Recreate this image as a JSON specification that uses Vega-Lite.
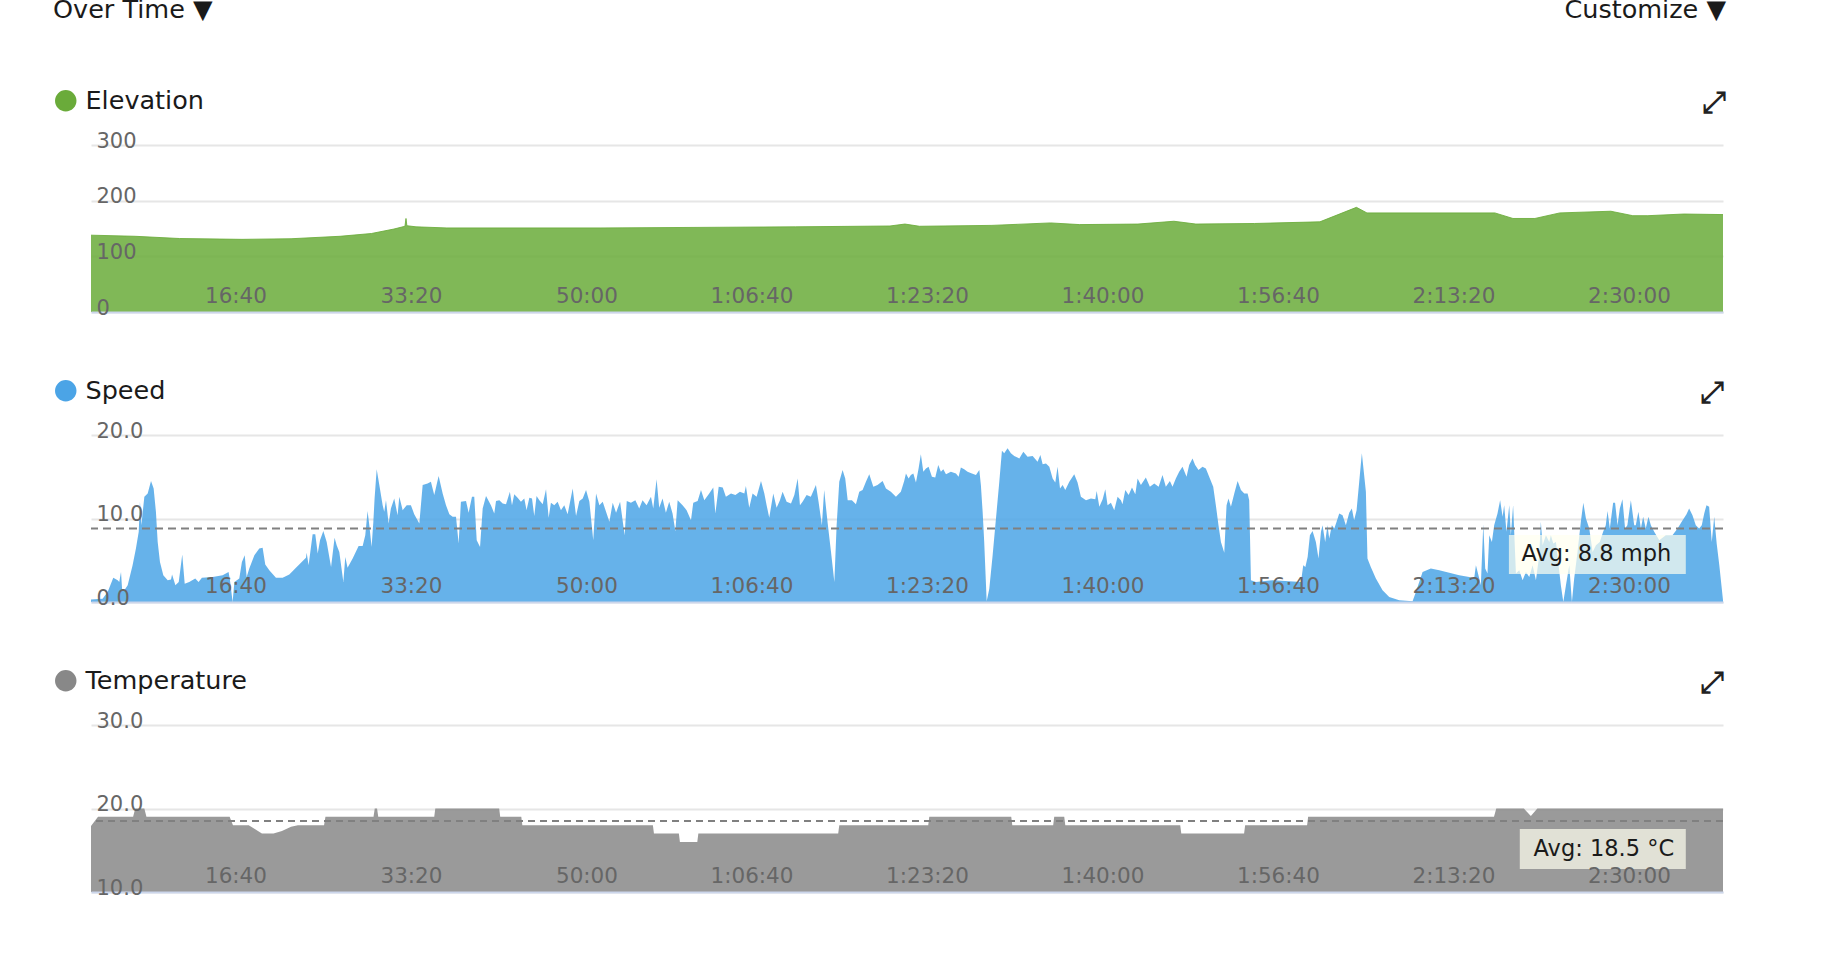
{
  "$schema": "https://vega.github.io/schema/vega-lite/v6.json",
  "background": "white",
  "padding": {"left": 53, "top": -3, "right": 10, "bottom": 10},
  "title": {"text": "Over Time ▼", "anchor": "start", "frame": "bounds", "offset": -26, "font": "DejaVu Sans", "fontSize": 25.5, "fontWeight": "normal", "color": "#1a1a1a"},
  "config": {
    "view": {"stroke": null},
    "font": "DejaVu Sans",
    "axis": {"labelFont": "DejaVu Sans", "labelColor": "#666666", "ticks": false, "domain": false, "title": null, "labelFlush": false, "labelOverlap": false, "gridColor": "#e6e6e6", "gridWidth": 2}
  },
  "datasets": {
    "elev": [
      {"t":0,"v":138},{"t":251,"v":136},{"t":505,"v":132},{"t":860,"v":130.5},{"t":1140,"v":131.6},{"t":1419,"v":136},{"t":1598,"v":141},{"t":1726,"v":149},{"t":1789,"v":154},{"t":1795,"v":168},{"t":1800,"v":155},{"t":1852,"v":153},{"t":2028,"v":151},{"t":2285,"v":151},{"t":2906,"v":151},{"t":3476,"v":152},{"t":4015,"v":153},{"t":4553,"v":154.5},{"t":4638,"v":158},{"t":4721,"v":154},{"t":5134,"v":155.6},{"t":5468,"v":160},{"t":5634,"v":157},{"t":5966,"v":158},{"t":6171,"v":163},{"t":6296,"v":158},{"t":6630,"v":159},{"t":7003,"v":162},{"t":7211,"v":188},{"t":7271,"v":178},{"t":8000,"v":178},{"t":8103,"v":168},{"t":8228,"v":168},{"t":8370,"v":178},{"t":8661,"v":181},{"t":8786,"v":173},{"t":8872,"v":173},{"t":9077,"v":176},{"t":9300,"v":175}
    ],
    "speed": [
      {"t":0,"v":0.3},{"t":66,"v":0.4},{"t":95,"v":1.2},{"t":127,"v":2.9},{"t":152,"v":2.6},{"t":161,"v":2.4},{"t":171,"v":3.6},{"t":177,"v":1.6},{"t":190,"v":1.4},{"t":209,"v":2.0},{"t":237,"v":4.4},{"t":256,"v":6.4},{"t":272,"v":8.4},{"t":279,"v":12.0},{"t":287,"v":9.2},{"t":304,"v":12.6},{"t":323,"v":13.0},{"t":342,"v":14.5},{"t":357,"v":13.6},{"t":370,"v":10.8},{"t":380,"v":7.2},{"t":393,"v":4.8},{"t":412,"v":3.2},{"t":437,"v":2.6},{"t":456,"v":2.7},{"t":462,"v":3.3},{"t":481,"v":2.0},{"t":500,"v":2.4},{"t":520,"v":5.7},{"t":534,"v":2.2},{"t":560,"v":2.4},{"t":594,"v":2.8},{"t":613,"v":2.4},{"t":632,"v":2.9},{"t":693,"v":3.0},{"t":750,"v":3.2},{"t":784,"v":3.6},{"t":792,"v":2.6},{"t":807,"v":0},{"t":817,"v":2.4},{"t":845,"v":2.8},{"t":860,"v":4.8},{"t":876,"v":5.6},{"t":887,"v":3.0},{"t":902,"v":4.0},{"t":931,"v":5.6},{"t":959,"v":6.4},{"t":978,"v":6.5},{"t":993,"v":4.5},{"t":1016,"v":3.8},{"t":1054,"v":2.9},{"t":1092,"v":2.9},{"t":1130,"v":3.3},{"t":1168,"v":4.1},{"t":1225,"v":5.3},{"t":1229,"v":5.9},{"t":1240,"v":4.4},{"t":1263,"v":8.1},{"t":1278,"v":8.1},{"t":1292,"v":5.8},{"t":1305,"v":7.4},{"t":1324,"v":8.5},{"t":1343,"v":7.2},{"t":1368,"v":4.2},{"t":1388,"v":7.7},{"t":1400,"v":6.8},{"t":1415,"v":6.0},{"t":1438,"v":2.4},{"t":1449,"v":5.4},{"t":1462,"v":4.1},{"t":1491,"v":5.2},{"t":1525,"v":6.7},{"t":1548,"v":6.7},{"t":1563,"v":8.0},{"t":1576,"v":10.9},{"t":1586,"v":9.2},{"t":1599,"v":6.6},{"t":1609,"v":9.6},{"t":1616,"v":12.4},{"t":1628,"v":15.9},{"t":1643,"v":14.0},{"t":1662,"v":11.6},{"t":1671,"v":10.8},{"t":1681,"v":12.2},{"t":1696,"v":9.4},{"t":1709,"v":11.2},{"t":1728,"v":12.4},{"t":1747,"v":10.4},{"t":1757,"v":12.6},{"t":1776,"v":11.0},{"t":1799,"v":11.6},{"t":1823,"v":11.6},{"t":1842,"v":10.5},{"t":1871,"v":9.4},{"t":1890,"v":14.0},{"t":1918,"v":14.2},{"t":1937,"v":14.4},{"t":1956,"v":12.8},{"t":1981,"v":15.1},{"t":2004,"v":13.0},{"t":2023,"v":11.6},{"t":2042,"v":10.5},{"t":2061,"v":10.2},{"t":2080,"v":10.2},{"t":2095,"v":7.0},{"t":2108,"v":12.0},{"t":2137,"v":12.1},{"t":2152,"v":10.7},{"t":2171,"v":12.6},{"t":2184,"v":12.6},{"t":2198,"v":7.4},{"t":2217,"v":6.6},{"t":2232,"v":11.2},{"t":2251,"v":12.7},{"t":2279,"v":11.6},{"t":2298,"v":10.6},
      {"t":2308,"v":12.1},{"t":2327,"v":12.2},{"t":2346,"v":11.8},{"t":2365,"v":11.7},{"t":2387,"v":13.2},{"t":2399,"v":11.6},{"t":2412,"v":12.9},{"t":2431,"v":12.5},{"t":2450,"v":12.0},{"t":2469,"v":12.4},{"t":2482,"v":11.0},{"t":2498,"v":12.5},{"t":2513,"v":12.4},{"t":2526,"v":10.3},{"t":2539,"v":12.7},{"t":2555,"v":12.2},{"t":2574,"v":11.7},{"t":2593,"v":13.5},{"t":2608,"v":10.1},{"t":2621,"v":11.9},{"t":2640,"v":11.6},{"t":2659,"v":12.0},{"t":2678,"v":11.0},{"t":2697,"v":11.6},{"t":2716,"v":10.5},{"t":2745,"v":13.6},{"t":2764,"v":10.3},{"t":2783,"v":12.1},{"t":2802,"v":12.4},{"t":2821,"v":13.4},{"t":2840,"v":12.0},{"t":2862,"v":7.4},{"t":2878,"v":13.0},{"t":2897,"v":11.6},{"t":2916,"v":12.0},{"t":2935,"v":10.8},{"t":2954,"v":9.6},{"t":2973,"v":11.9},{"t":2992,"v":10.7},{"t":3015,"v":12.0},{"t":3041,"v":8.0},{"t":3053,"v":12.1},{"t":3077,"v":11.9},{"t":3102,"v":12.2},{"t":3124,"v":11.2},{"t":3143,"v":12.2},{"t":3166,"v":11.6},{"t":3191,"v":12.6},{"t":3204,"v":11.2},{"t":3223,"v":14.7},{"t":3238,"v":11.3},{"t":3257,"v":12.4},{"t":3276,"v":10.7},{"t":3295,"v":12.0},{"t":3314,"v":10.6},{"t":3330,"v":8.5},{"t":3343,"v":12.2},{"t":3371,"v":11.6},{"t":3394,"v":11.0},{"t":3419,"v":9.8},{"t":3432,"v":11.9},{"t":3457,"v":12.1},{"t":3476,"v":13.4},{"t":3495,"v":12.2},{"t":3523,"v":13.0},{"t":3546,"v":13.7},{"t":3558,"v":10.6},{"t":3577,"v":13.8},{"t":3600,"v":13.7},{"t":3618,"v":12.6},{"t":3647,"v":13.0},{"t":3672,"v":12.8},{"t":3698,"v":13.2},{"t":3723,"v":13.0},{"t":3732,"v":13.9},{"t":3751,"v":11.3},{"t":3770,"v":13.0},{"t":3793,"v":12.6},{"t":3818,"v":14.5},{"t":3837,"v":13.0},{"t":3850,"v":11.6},{"t":3865,"v":10.1},{"t":3888,"v":13.0},{"t":3907,"v":11.3},{"t":3926,"v":12.2},{"t":3941,"v":13.2},{"t":3964,"v":12.0},{"t":3989,"v":11.8},{"t":4008,"v":12.8},{"t":4027,"v":14.8},{"t":4040,"v":11.6},{"t":4055,"v":12.0},{"t":4078,"v":12.8},{"t":4102,"v":12.6},{"t":4131,"v":14.0},{"t":4146,"v":12.0},{"t":4165,"v":9.2},{"t":4178,"v":13.4},{"t":4197,"v":9.6},{"t":4217,"v":6.0},{"t":4236,"v":2.4},{"t":4249,"v":9.2},{"t":4264,"v":14.4},{"t":4283,"v":15.8},{"t":4298,"v":14.8},{"t":4312,"v":12.2},{"t":4336,"v":12.2},{"t":4359,"v":11.7},{"t":4378,"v":13.2},{"t":4397,"v":13.4},{"t":4416,"v":14.4},{"t":4435,"v":15.3},{"t":4458,"v":13.8},{"t":4482,"v":14.0},{"t":4511,"v":14.5},{"t":4530,"v":13.6},{"t":4558,"v":13.2},{"t":4587,"v":12.6},{"t":4615,"v":13.2},{"t":4634,"v":14.5},
      {"t":4644,"v":15.4},{"t":4659,"v":14.8},{"t":4672,"v":15.2},{"t":4686,"v":15.4},{"t":4701,"v":14.3},{"t":4716,"v":16.0},{"t":4729,"v":17.7},{"t":4743,"v":15.6},{"t":4758,"v":16.0},{"t":4773,"v":16.2},{"t":4792,"v":15.0},{"t":4811,"v":14.9},{"t":4828,"v":16.4},{"t":4843,"v":15.6},{"t":4857,"v":15.9},{"t":4872,"v":15.3},{"t":4900,"v":15.6},{"t":4929,"v":15.4},{"t":4944,"v":15.0},{"t":4957,"v":16.1},{"t":4976,"v":15.9},{"t":4995,"v":15.6},{"t":5020,"v":15.4},{"t":5043,"v":15.2},{"t":5062,"v":15.8},{"t":5071,"v":14.0},{"t":5081,"v":10.8},{"t":5090,"v":7.2},{"t":5104,"v":0.1},{"t":5119,"v":1.6},{"t":5138,"v":5.6},{"t":5157,"v":10.0},{"t":5176,"v":14.4},{"t":5191,"v":18.1},{"t":5204,"v":17.8},{"t":5223,"v":18.4},{"t":5242,"v":17.8},{"t":5261,"v":17.5},{"t":5290,"v":17.2},{"t":5313,"v":18.0},{"t":5337,"v":17.4},{"t":5366,"v":17.5},{"t":5394,"v":16.8},{"t":5410,"v":17.6},{"t":5423,"v":16.5},{"t":5442,"v":16.6},{"t":5461,"v":16.2},{"t":5480,"v":14.8},{"t":5495,"v":14.3},{"t":5508,"v":16.2},{"t":5522,"v":13.6},{"t":5537,"v":14.0},{"t":5552,"v":13.4},{"t":5575,"v":14.4},{"t":5603,"v":15.3},{"t":5622,"v":14.3},{"t":5641,"v":12.6},{"t":5670,"v":12.2},{"t":5698,"v":12.4},{"t":5723,"v":12.3},{"t":5731,"v":13.3},{"t":5746,"v":11.4},{"t":5765,"v":12.3},{"t":5780,"v":13.5},{"t":5793,"v":11.6},{"t":5812,"v":11.9},{"t":5831,"v":11.0},{"t":5850,"v":12.6},{"t":5869,"v":12.2},{"t":5878,"v":11.7},{"t":5894,"v":13.4},{"t":5913,"v":12.8},{"t":5932,"v":13.7},{"t":5951,"v":12.9},{"t":5964,"v":14.8},{"t":5983,"v":14.0},{"t":6011,"v":14.9},{"t":6034,"v":13.8},{"t":6059,"v":14.2},{"t":6084,"v":13.8},{"t":6106,"v":15.2},{"t":6125,"v":13.8},{"t":6148,"v":14.5},{"t":6163,"v":13.8},{"t":6182,"v":14.8},{"t":6201,"v":15.6},{"t":6220,"v":16.2},{"t":6243,"v":15.0},{"t":6258,"v":16.4},{"t":6277,"v":17.2},{"t":6292,"v":16.4},{"t":6311,"v":15.8},{"t":6334,"v":16.2},{"t":6353,"v":16.0},{"t":6376,"v":14.8},{"t":6395,"v":13.8},{"t":6410,"v":11.6},{"t":6425,"v":9.2},{"t":6439,"v":7.2},{"t":6458,"v":5.9},{"t":6471,"v":11.6},{"t":6482,"v":12.4},{"t":6496,"v":11.4},{"t":6515,"v":13.0},{"t":6534,"v":14.5},{"t":6553,"v":13.4},{"t":6572,"v":13.0},{"t":6591,"v":13.0},{"t":6600,"v":12.2},{"t":6610,"v":2.6},{"t":6638,"v":2.4},{"t":6733,"v":2.6},{"t":6828,"v":2.5},{"t":6895,"v":2.4},{"t":6908,"v":4.4},{"t":6920,"v":4.2},{"t":6933,"v":5.4},{"t":6946,"v":8.0},{"t":6961,"v":8.5},
      {"t":6980,"v":7.2},{"t":6995,"v":5.2},{"t":7009,"v":8.4},{"t":7018,"v":9.2},{"t":7033,"v":7.2},{"t":7046,"v":9.2},{"t":7056,"v":7.6},{"t":7071,"v":9.2},{"t":7085,"v":8.8},{"t":7098,"v":9.6},{"t":7113,"v":10.6},{"t":7132,"v":10.4},{"t":7151,"v":9.2},{"t":7170,"v":10.7},{"t":7185,"v":11.2},{"t":7198,"v":9.8},{"t":7212,"v":11.0},{"t":7227,"v":14.4},{"t":7242,"v":17.8},{"t":7255,"v":15.2},{"t":7265,"v":13.2},{"t":7274,"v":5.2},{"t":7293,"v":4.2},{"t":7322,"v":2.8},{"t":7360,"v":1.4},{"t":7398,"v":0.6},{"t":7455,"v":0.2},{"t":7531,"v":0.1},{"t":7550,"v":1.2},{"t":7588,"v":3.6},{"t":7635,"v":4.0},{"t":7683,"v":3.8},{"t":7740,"v":3.5},{"t":7797,"v":3.2},{"t":7854,"v":3.0},{"t":7882,"v":2.8},{"t":7892,"v":4.4},{"t":7911,"v":2.8},{"t":7920,"v":2.0},{"t":7934,"v":9.3},{"t":7945,"v":4.0},{"t":7958,"v":3.4},{"t":7968,"v":8.0},{"t":7983,"v":7.2},{"t":7996,"v":9.2},{"t":8015,"v":10.6},{"t":8030,"v":12.2},{"t":8044,"v":10.2},{"t":8053,"v":11.6},{"t":8066,"v":8.4},{"t":8082,"v":11.6},{"t":8091,"v":8.0},{"t":8104,"v":11.6},{"t":8120,"v":3.4},{"t":8139,"v":3.8},{"t":8158,"v":2.6},{"t":8177,"v":3.6},{"t":8196,"v":3.0},{"t":8215,"v":4.4},{"t":8234,"v":2.6},{"t":8253,"v":5.6},{"t":8262,"v":9.6},{"t":8272,"v":6.8},{"t":8291,"v":8.0},{"t":8310,"v":7.2},{"t":8319,"v":8.0},{"t":8333,"v":7.0},{"t":8348,"v":7.2},{"t":8363,"v":4.4},{"t":8376,"v":2.0},{"t":8390,"v":0},{"t":8405,"v":2.0},{"t":8424,"v":4.4},{"t":8439,"v":0},{"t":8452,"v":2.8},{"t":8471,"v":6.0},{"t":8490,"v":9.6},{"t":8504,"v":11.9},{"t":8519,"v":10.0},{"t":8538,"v":8.8},{"t":8557,"v":6.0},{"t":8576,"v":6.8},{"t":8598,"v":7.2},{"t":8617,"v":8.4},{"t":8632,"v":9.2},{"t":8642,"v":10.9},{"t":8655,"v":8.8},{"t":8674,"v":11.9},{"t":8685,"v":11.9},{"t":8699,"v":9.2},{"t":8712,"v":11.2},{"t":8727,"v":12.3},{"t":8742,"v":8.8},{"t":8755,"v":9.2},{"t":8775,"v":12.2},{"t":8794,"v":9.2},{"t":8803,"v":9.2},{"t":8818,"v":10.8},{"t":8832,"v":8.8},{"t":8845,"v":10.2},{"t":8860,"v":8.8},{"t":8875,"v":10.2},{"t":8889,"v":9.2},{"t":8908,"v":8.4},{"t":8937,"v":7.4},{"t":8974,"v":8.0},{"t":9012,"v":8.0},{"t":9041,"v":8.8},{"t":9070,"v":9.8},{"t":9092,"v":10.5},{"t":9107,"v":11.2},{"t":9126,"v":10.4},{"t":9145,"v":9.2},{"t":9164,"v":8.8},{"t":9179,"v":9.2},{"t":9193,"v":10.6},{"t":9206,"v":11.6},{"t":9221,"v":11.4},{"t":9236,"v":7.2},{"t":9250,"v":10.2},{"t":9264,"v":7.0},{"t":9279,"v":4.4},{"t":9300,"v":0.2}
    ],
    "temp": [
      {"t":0,"v":17.9},{"t":40,"v":19},{"t":240,"v":19},{"t":252,"v":20},{"t":304,"v":20},{"t":316,"v":19},{"t":790,"v":19},{"t":809,"v":18},{"t":899,"v":18},{"t":974,"v":17},{"t":1040,"v":17},{"t":1088,"v":17.3},{"t":1140,"v":17.8},{"t":1179,"v":18},{"t":1328,"v":18},{"t":1336,"v":19},{"t":1610,"v":19},{"t":1617,"v":20},{"t":1630,"v":20},{"t":1637,"v":19},{"t":1956,"v":19},{"t":1962,"v":20},{"t":2326,"v":20},{"t":2332,"v":19},{"t":2452,"v":19},{"t":2458,"v":18},{"t":3202,"v":18},{"t":3208,"v":17},{"t":3350,"v":17},{"t":3356,"v":16},{"t":3455,"v":16},{"t":3461,"v":17},{"t":4258,"v":17},{"t":4264,"v":18},{"t":4771,"v":18},{"t":4777,"v":19},{"t":5244,"v":19},{"t":5250,"v":18},{"t":5483,"v":18},{"t":5489,"v":19},{"t":5546,"v":19},{"t":5552,"v":18},{"t":6207,"v":18},{"t":6213,"v":17},{"t":6571,"v":17},{"t":6577,"v":18},{"t":6930,"v":18},{"t":6936,"v":19},{"t":7995,"v":19},{"t":8008,"v":20},{"t":8165,"v":20},{"t":8205,"v":19.1},{"t":8242,"v":20},{"t":9300,"v":20}
    ]
  },
  "resolve": {"scale": {"color": "independent"}},
  "bounds": "flush",
  "spacing": 123,
  "vconcat": [
    {
      "width": 1632, "height": 167,
      "title": {"text": "Customize ▼", "subtitle": "⤢", "anchor": "end", "frame": "group", "offset": -30, "subtitlePadding": 65, "dx": 3, "font": "DejaVu Sans", "fontSize": 25.5, "fontWeight": "normal", "color": "#1a1a1a", "subtitleFont": "DejaVu Sans", "subtitleFontSize": 30, "subtitleFontWeight": "bold", "subtitleColor": "#222222"},
      "data": {"name": "elev"},
      "layer": [
        {
          "mark": {"type": "area", "fillOpacity": 0.85, "interpolate": "linear", "clip": true},
          "encoding": {
            "x": {"field": "t", "type": "quantitative", "scale": {"domain": [0, 9300], "nice": false, "zero": false},
                  "axis": {"orient": "bottom", "values": [1000,2000,3000,4000,5000,6000,7000,8000,9000], "labelExpr": "datum.value >= 3600 ? floor(datum.value / 3600) + ':' + (floor(datum.value % 3600 / 60) < 10 ? '0' : '') + floor(datum.value % 3600 / 60) + ':' + (datum.value % 60 < 10 ? '0' : '') + (datum.value % 60) : floor(datum.value / 60) + ':' + (datum.value % 60 < 10 ? '0' : '') + (datum.value % 60)", "labelAlign": "right", "labelBaseline": "middle", "labelPadding": -16, "labelFontSize": 21.5, "grid": false, "domain": true, "domainColor": "#ccd6eb", "domainWidth": 2, "zindex": 1}},
            "y": {"field": "v", "type": "quantitative", "scale": {"domain": [0, 300], "nice": false},
                  "axis": {"orient": "left", "values": [0,100,200,300], "grid": true, "labels": false, "zindex": 0}},
            "color": {"datum": "Elevation", "scale": {"range": ["#6aab3a"]},
                      "legend": {"orient": "none", "legendX": -38, "legendY": -57, "padding": 0, "title": null, "symbolType": "circle", "symbolSize": 460, "symbolStrokeWidth": 0, "symbolOpacity": 1, "labelFont": "DejaVu Sans", "labelFontSize": 25.5, "labelColor": "#1a1a1a", "labelOffset": 7, "labelLimit": 500, "encode": {"symbols": {"update": {"fillOpacity": {"value": 1}, "opacity": {"value": 1}}}}}}
          }
        },
        {
          "mark": {"type": "line", "strokeWidth": 1, "opacity": 0.85, "color": "#6aab3a", "interpolate": "linear"},
          "encoding": {
            "x": {"field": "t", "type": "quantitative", "scale": {"domain": [0, 9300], "nice": false, "zero": false}, "axis": null},
            "y": {"field": "v", "type": "quantitative", "scale": {"domain": [0, 300], "nice": false},
                  "axis": {"orient": "left", "values": [0,100,200,300], "format": "d", "grid": false, "labelAlign": "left", "labelBaseline": "middle", "labelPadding": -5, "labelOffset": -4, "labelFontSize": 21, "zindex": 1}}
          }
        }
      ],
      "resolve": {"axis": {"x": "independent", "y": "independent"}}
    },
    {
      "width": 1632, "height": 167,
      "title": {"text": "⤢", "anchor": "end", "frame": "group", "offset": -30, "dx": 1, "font": "DejaVu Sans", "fontSize": 30, "fontWeight": "bold", "color": "#222222"},
      "layer": [
        {
          "data": {"name": "speed"},
          "mark": {"type": "area", "fillOpacity": 0.85, "interpolate": "linear", "clip": true},
          "encoding": {
            "x": {"field": "t", "type": "quantitative", "scale": {"domain": [0, 9300], "nice": false, "zero": false},
                  "axis": {"orient": "bottom", "values": [1000,2000,3000,4000,5000,6000,7000,8000,9000], "labelExpr": "datum.value >= 3600 ? floor(datum.value / 3600) + ':' + (floor(datum.value % 3600 / 60) < 10 ? '0' : '') + floor(datum.value % 3600 / 60) + ':' + (datum.value % 60 < 10 ? '0' : '') + (datum.value % 60) : floor(datum.value / 60) + ':' + (datum.value % 60 < 10 ? '0' : '') + (datum.value % 60)", "labelAlign": "right", "labelBaseline": "middle", "labelPadding": -16, "labelFontSize": 21.5, "grid": false, "domain": true, "domainColor": "#ccd6eb", "domainWidth": 2, "zindex": 1}},
            "y": {"field": "v", "type": "quantitative", "scale": {"domain": [0, 20], "nice": false},
                  "axis": {"orient": "left", "values": [0,10,20], "grid": true, "labels": false, "zindex": 0}},
            "color": {"datum": "Speed", "scale": {"range": ["#4ba4e6"]},
                      "legend": {"orient": "none", "legendX": -38, "legendY": -57, "padding": 0, "title": null, "symbolType": "circle", "symbolSize": 460, "symbolStrokeWidth": 0, "symbolOpacity": 1, "labelFont": "DejaVu Sans", "labelFontSize": 25.5, "labelColor": "#1a1a1a", "labelOffset": 7, "labelLimit": 500, "encode": {"symbols": {"update": {"fillOpacity": {"value": 1}, "opacity": {"value": 1}}}}}}
          }
        },
        {
          "data": {"values": [{}]},
          "mark": {"type": "rule", "color": "#808080", "strokeWidth": 2, "strokeDash": [8, 5]},
          "encoding": {
            "y": {"datum": 8.8, "type": "quantitative", "scale": {"domain": [0, 20], "nice": false},
                  "axis": {"orient": "left", "values": [0,10,20], "format": ".1f", "grid": false, "labelAlign": "left", "labelBaseline": "middle", "labelPadding": -5, "labelOffset": -4, "labelFontSize": 21, "zindex": 1}}
          }
        },
        {
          "data": {"values": [{}]},
          "mark": {"type": "rect", "fill": "#fffff0", "opacity": 0.7},
          "encoding": {
            "x": {"datum": 8080, "type": "quantitative", "axis": null},
            "x2": {"datum": 9088},
            "y": {"datum": 3.35, "type": "quantitative", "axis": null},
            "y2": {"datum": 8.02}
          }
        },
        {
          "data": {"values": [{}]},
          "mark": {"type": "text", "font": "DejaVu Sans", "fontSize": 22.5, "color": "#1a1a1a", "align": "center", "baseline": "middle"},
          "encoding": {
            "text": {"value": "Avg: 8.8 mph"},
            "x": {"datum": 8578, "type": "quantitative", "axis": null},
            "y": {"datum": 5.7, "type": "quantitative", "axis": null}
          }
        }
      ],
      "resolve": {"axis": {"x": "independent", "y": "independent"}}
    },
    {
      "width": 1632, "height": 167,
      "title": {"text": "⤢", "anchor": "end", "frame": "group", "offset": -30, "dx": 1, "font": "DejaVu Sans", "fontSize": 30, "fontWeight": "bold", "color": "#222222"},
      "layer": [
        {
          "data": {"name": "temp"},
          "mark": {"type": "area", "fillOpacity": 0.85, "interpolate": "linear", "clip": true},
          "encoding": {
            "x": {"field": "t", "type": "quantitative", "scale": {"domain": [0, 9300], "nice": false, "zero": false},
                  "axis": {"orient": "bottom", "values": [1000,2000,3000,4000,5000,6000,7000,8000,9000], "labelExpr": "datum.value >= 3600 ? floor(datum.value / 3600) + ':' + (floor(datum.value % 3600 / 60) < 10 ? '0' : '') + floor(datum.value % 3600 / 60) + ':' + (datum.value % 60 < 10 ? '0' : '') + (datum.value % 60) : floor(datum.value / 60) + ':' + (datum.value % 60 < 10 ? '0' : '') + (datum.value % 60)", "labelAlign": "right", "labelBaseline": "middle", "labelPadding": -16, "labelFontSize": 21.5, "grid": false, "domain": true, "domainColor": "#ccd6eb", "domainWidth": 2, "zindex": 1}},
            "y": {"field": "v", "type": "quantitative", "scale": {"domain": [10, 30], "nice": false, "zero": false},
                  "axis": {"orient": "left", "values": [10,20,30], "grid": true, "labels": false, "zindex": 0}},
            "y2": {"datum": 10},
            "color": {"datum": "Temperature", "scale": {"range": ["#888888"]},
                      "legend": {"orient": "none", "legendX": -38, "legendY": -57, "padding": 0, "title": null, "symbolType": "circle", "symbolSize": 460, "symbolStrokeWidth": 0, "symbolOpacity": 1, "labelFont": "DejaVu Sans", "labelFontSize": 25.5, "labelColor": "#1a1a1a", "labelOffset": 7, "labelLimit": 500, "encode": {"symbols": {"update": {"fillOpacity": {"value": 1}, "opacity": {"value": 1}}}}}}
          }
        },
        {
          "data": {"values": [{}]},
          "mark": {"type": "rule", "color": "#808080", "strokeWidth": 2, "strokeDash": [7, 5]},
          "encoding": {
            "y": {"datum": 18.5, "type": "quantitative", "scale": {"domain": [10, 30], "nice": false, "zero": false},
                  "axis": {"orient": "left", "values": [10,20,30], "format": ".1f", "grid": false, "labelAlign": "left", "labelBaseline": "middle", "labelPadding": -5, "labelOffset": -4, "labelFontSize": 21, "zindex": 1}}
          }
        },
        {
          "data": {"values": [{}]},
          "mark": {"type": "rect", "fill": "#fffff0", "opacity": 0.7},
          "encoding": {
            "x": {"datum": 8142, "type": "quantitative", "axis": null},
            "x2": {"datum": 9088},
            "y": {"datum": 12.75, "type": "quantitative", "axis": null},
            "y2": {"datum": 17.55}
          }
        },
        {
          "data": {"values": [{}]},
          "mark": {"type": "text", "font": "DejaVu Sans", "fontSize": 22.5, "color": "#1a1a1a", "align": "center", "baseline": "middle"},
          "encoding": {
            "text": {"value": "Avg: 18.5 °C"},
            "x": {"datum": 8621, "type": "quantitative", "axis": null},
            "y": {"datum": 15.15, "type": "quantitative", "axis": null}
          }
        }
      ],
      "resolve": {"axis": {"x": "independent", "y": "independent"}}
    }
  ]
}
